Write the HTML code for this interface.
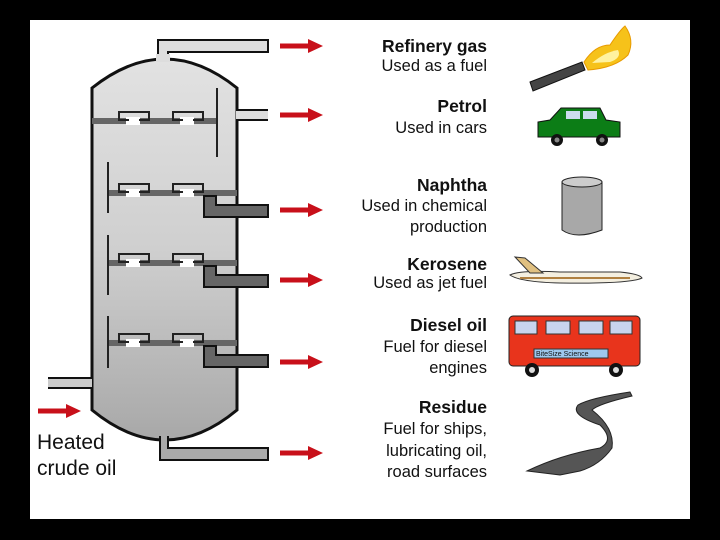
<!DOCTYPE html>
<html><head><style>
html,body{margin:0;padding:0;background:#000;}
svg{display:block}
text{font-family:"Liberation Sans",sans-serif;fill:#111}
.b{font-weight:bold;font-size:17.5px}
.n{font-size:16.5px}
</style></head><body>
<svg width="720" height="540" viewBox="0 0 720 540">
<defs>
<linearGradient id="g" x1="0" y1="0" x2="0" y2="1">
<stop offset="0" stop-color="#e2e2e2"/><stop offset="0.5" stop-color="#cfcfcf"/><stop offset="1" stop-color="#a8a8a8"/>
</linearGradient>
<g id="ar"><path d="M0,-2.5 H28 V-7 L43,0 L28,7 V2.5 H0Z" fill="#c8101a"/></g>
<g id="cap"><path d="M0,0 h-10 v-8 h30 v8 h-10" fill="none" stroke="#222" stroke-width="2"/></g>
</defs>
<rect x="30" y="20" width="660" height="499" fill="#fff"/>
<path d="M158,58 V40 H268 V52 H168 V58Z" fill="#ddd" stroke="#111" stroke-width="2"/>
<path d="M92,88 Q165,30 237,88 V410 Q165,470 92,410Z" fill="url(#g)" stroke="#111" stroke-width="3"/>
<rect x="156" y="54" width="14" height="8" fill="#ddd"/>
<path d="M160,436 V460 H268 V448 H168 V436" fill="#aaa" stroke="#111" stroke-width="2"/>
<rect x="161" y="432" width="6" height="16" fill="#aaa"/>
<path d="M48,378 H92 M48,388 H92" stroke="#111" stroke-width="2"/>
<rect x="48" y="379" width="44" height="8" fill="#ccc"/>
<path d="M237,110 H268 M237,120 H268" stroke="#111" stroke-width="2"/>
<rect x="236" y="111" width="32" height="8" fill="#ddd"/>
<g fill="#666">
<rect x="92" y="118" width="125" height="6"/>
<rect x="108" y="190" width="129" height="6"/>
<rect x="108" y="260" width="129" height="6"/>
<rect x="108" y="340" width="129" height="6"/>
</g>
<g stroke="#222" stroke-width="2">
<line x1="217" y1="88" x2="217" y2="157"/>
<line x1="108" y1="162" x2="108" y2="213"/>
<line x1="108" y1="235" x2="108" y2="295"/>
<line x1="108" y1="316" x2="108" y2="368"/>
</g>
<g fill="#fff" stroke="none">
<rect x="126" y="117" width="14" height="8"/><rect x="180" y="117" width="14" height="8"/>
<rect x="126" y="189" width="14" height="8"/><rect x="180" y="189" width="14" height="8"/>
<rect x="126" y="259" width="14" height="8"/><rect x="180" y="259" width="14" height="8"/>
<rect x="126" y="339" width="14" height="8"/><rect x="180" y="339" width="14" height="8"/>
</g>
<g>
<use href="#cap" x="129" y="120"/><use href="#cap" x="183" y="120"/>
<use href="#cap" x="129" y="192"/><use href="#cap" x="183" y="192"/>
<use href="#cap" x="129" y="262"/><use href="#cap" x="183" y="262"/>
<use href="#cap" x="129" y="342"/><use href="#cap" x="183" y="342"/>
</g>
<g fill="#666" stroke="#111" stroke-width="2">
<path d="M204,196 V217 H268 V205 H216 V196Z"/>
<path d="M204,266 V287 H268 V275 H216 V266Z"/>
<path d="M204,346 V367 H268 V355 H216 V346Z"/>
</g>
<use href="#ar" x="280" y="46"/>
<use href="#ar" x="280" y="115"/>
<use href="#ar" x="280" y="210"/>
<use href="#ar" x="280" y="280"/>
<use href="#ar" x="280" y="362"/>
<use href="#ar" x="280" y="453"/>
<use href="#ar" x="38" y="411"/>
<text x="37" y="449" font-size="21">Heated</text>
<text x="37" y="475" font-size="21">crude oil</text>
<g text-anchor="end">
<text x="487" y="52" class="b">Refinery gas</text>
<text x="487" y="71" class="n">Used as a fuel</text>
<text x="487" y="112" class="b">Petrol</text>
<text x="487" y="133" class="n">Used in cars</text>
<text x="487" y="191" class="b">Naphtha</text>
<text x="487" y="211" class="n">Used in chemical</text>
<text x="487" y="232" class="n">production</text>
<text x="487" y="270" class="b">Kerosene</text>
<text x="487" y="288" class="n">Used as jet fuel</text>
<text x="487" y="331" class="b">Diesel oil</text>
<text x="487" y="352" class="n">Fuel for diesel</text>
<text x="487" y="373" class="n">engines</text>
<text x="487" y="413" class="b">Residue</text>
<text x="487" y="434" class="n">Fuel for ships,</text>
<text x="487" y="456" class="n">lubricating oil,</text>
<text x="487" y="477" class="n">road surfaces</text>
</g>
<path d="M530,82 L582,62 L585,70 L533,91Z" fill="#444" stroke="#111"/>
<path d="M584,62 Q595,45 610,45 Q620,30 625,26 Q635,40 628,55 Q615,68 588,70Z" fill="#f6c21a" stroke="#e89a00"/>
<path d="M592,63 Q605,52 618,50 Q622,58 610,62Z" fill="#fff2a0"/>
<path d="M538,122 L550,120 L561,108 L600,108 L606,120 L620,122 L620,137 L538,137Z" fill="#0c7d16" stroke="#111"/>
<rect x="566" y="111" width="14" height="8" fill="#cde"/><rect x="583" y="111" width="14" height="8" fill="#cde"/>
<circle cx="557" cy="140" r="6" fill="#111"/><circle cx="557" cy="140" r="2.5" fill="#888"/>
<circle cx="602" cy="140" r="6" fill="#111"/><circle cx="602" cy="140" r="2.5" fill="#888"/>
<path d="M562,182 V230 Q576,240 602,230 V182Z" fill="#a8a8a8" stroke="#222"/>
<ellipse cx="582" cy="182" rx="20" ry="5" fill="#ccc" stroke="#222"/>
<path d="M510,275 Q520,270 560,272 L620,272 Q640,274 642,278 Q630,284 560,283 Q520,282 510,275Z" fill="#f4efe0" stroke="#333"/>
<path d="M515,257 L525,258 L543,273 L530,273Z" fill="#e0c080" stroke="#333"/>
<line x1="520" y1="278" x2="630" y2="278" stroke="#b08040" stroke-width="2"/>
<rect x="509" y="316" width="131" height="50" rx="4" fill="#e8341c" stroke="#222"/>
<rect x="515" y="321" width="22" height="13" fill="#c8d4ee" stroke="#333"/>
<rect x="546" y="321" width="24" height="13" fill="#c8d4ee" stroke="#333"/>
<rect x="579" y="321" width="24" height="13" fill="#c8d4ee" stroke="#333"/>
<rect x="610" y="321" width="22" height="13" fill="#c8d4ee" stroke="#333"/>
<rect x="534" y="349" width="74" height="9" fill="#9ec8ee" stroke="#333"/>
<text x="536" y="356" font-size="7" fill="#236">BiteSize Science</text>
<circle cx="532" cy="370" r="7" fill="#111"/><circle cx="532" cy="370" r="3" fill="#ddd"/>
<circle cx="616" cy="370" r="7" fill="#111"/><circle cx="616" cy="370" r="3" fill="#ddd"/>
<path d="M527,471 Q560,455 600,448 Q615,440 600,425 Q570,415 578,405 Q590,398 630,392 L632,396 Q598,404 592,410 Q615,428 612,448 Q600,465 580,471 L560,475Z" fill="#555" stroke="#222"/>
</svg>
</body></html>
